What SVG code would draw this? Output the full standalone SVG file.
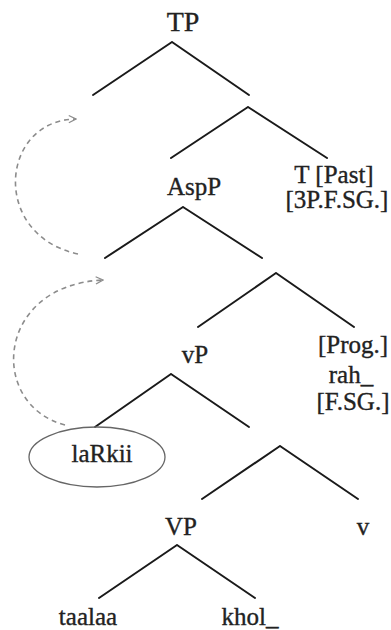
<svg xmlns="http://www.w3.org/2000/svg" width="391" height="630" viewBox="0 0 391 630">
  <style>
    .lbl { font-family: "Liberation Serif", "Times New Roman", serif; font-size: 25px; fill: #222; stroke: #222; stroke-width: 0.35; text-anchor: middle; }
    .branch { stroke: #1a1a1a; stroke-width: 2; fill: none; stroke-linecap: round; }
    .move { stroke: #8c8c8c; stroke-width: 1.6; fill: none; stroke-dasharray: 5 4; }
  </style>
  <defs>
    <marker id="chev" viewBox="0 0 10 10" refX="9" refY="5" markerWidth="9" markerHeight="9" markerUnits="userSpaceOnUse" orient="auto">
      <path d="M1,1 L9,5 L1,9" fill="none" stroke="#8c8c8c" stroke-width="1.4"/>
    </marker>
  </defs>
  <rect width="391" height="630" fill="#ffffff"/>

  <g id="connectors">
    <path class="branch" d="M172,42 L93,95 M172,42 L249,95"/>
    <path class="branch" d="M248,107 L171,158 M248,107 L327,158"/>
    <path class="branch" d="M183,207 L105,258 M183,207 L262,258"/>
    <path class="branch" d="M276,273 L198,327 M276,273 L354,327"/>
    <path class="branch" d="M171,374 L95,427 M171,374 L249,427"/>
    <path class="branch" d="M280,446 L202,499 M280,446 L358,499"/>
    <path class="branch" d="M177,545 L99,598 M177,545 L255,598"/>
    <path class="move" d="M78,254 C -10,235 0,120 76,119" marker-end="url(#chev)"/>
    <path class="move" d="M65,425 C -12,405 -5,285 103,280" marker-end="url(#chev)"/>
  </g>

  <g id="TP"><text class="lbl" x="183" y="31" style="font-size:28px">TP</text></g>
  <g id="AspP"><text class="lbl" x="194" y="195">AspP</text></g>
  <g id="T"><text class="lbl" x="334" y="183">T [Past]</text><text class="lbl" x="337" y="208">[3P.F.SG.]</text></g>
  <g id="vP"><text class="lbl" x="195" y="363">vP</text></g>
  <g id="Asp"><text class="lbl" x="353" y="353">[Prog.]</text><text class="lbl" x="351" y="383">rah_</text><text class="lbl" x="353" y="410">[F.SG.]</text></g>
  <g id="subject">
    <ellipse cx="97" cy="457" rx="68" ry="30" fill="none" stroke="#666" stroke-width="1.3"/>
    <text class="lbl" x="102" y="462">laRkii</text>
  </g>
  <g id="VP"><text class="lbl" x="181" y="535">VP</text></g>
  <g id="v"><text class="lbl" x="363" y="535">v</text></g>
  <g id="taalaa"><text class="lbl" x="88" y="625">taalaa</text></g>
  <g id="khol"><text class="lbl" x="250" y="625">khol_</text></g>
</svg>
